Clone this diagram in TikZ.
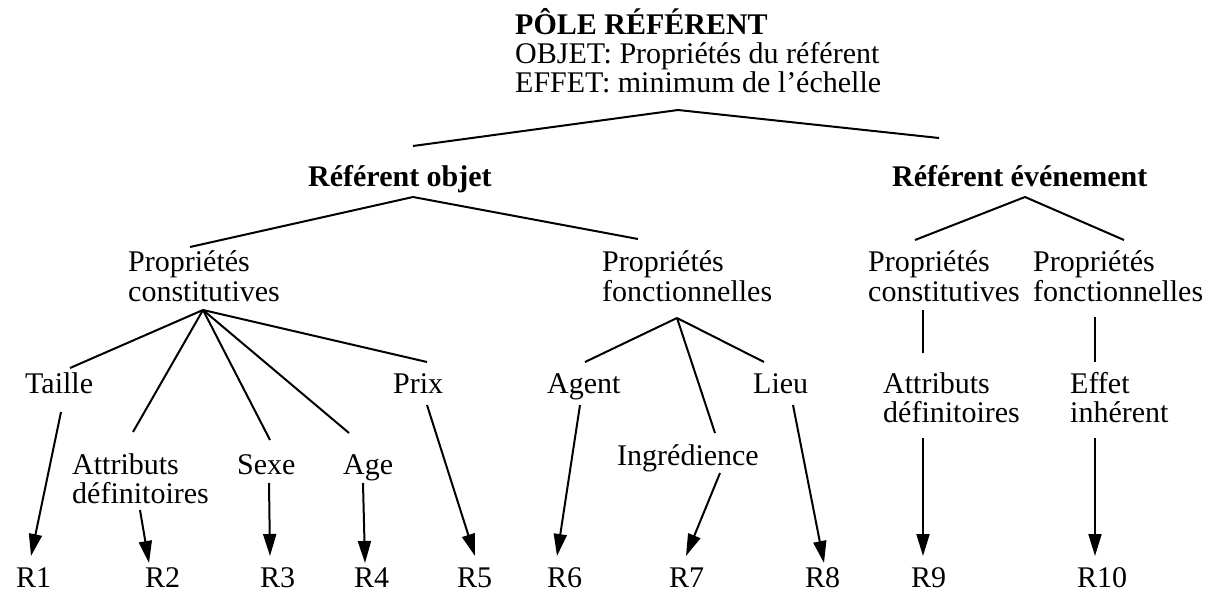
\documentclass[tikz,border=0pt]{standalone}
\usepackage{fontspec}
\setmainfont{Liberation Serif}
\usepackage{tikz}
\usetikzlibrary{arrows.meta}

\tikzset{
  lbl/.style={anchor=base west, inner sep=0pt, align=left, font=\fontsize{30}{29}\selectfont},
  head/.style={lbl, font=\bfseries\fontsize{30}{29}\selectfont},
  link/.style={line width=2pt},
  arr/.style={line width=2pt, -{Triangle[length=22pt,width=13pt]}}
}

\begin{document}
\begin{tikzpicture}[x=1pt, y=-1pt]
  \useasboundingbox (0,0) rectangle (1221,596);

  % Top of the tree
  \node[lbl] (pole) at (515,93)
    {\textbf{PÔLE RÉFÉRENT}\\OBJET: Propriétés du référent\\EFFET: minimum de l’échelle};
  \node[head] (ro) at (308,187) {Référent objet};
  \node[head] (re) at (892,187) {Référent événement};

  % Properties
  \node[lbl] (pc1) at (128,301) {Propriétés\\constitutives};
  \node[lbl] (pf1) at (602,301) {Propriétés\\fonctionnelles};
  \node[lbl] (pc2) at (868,301) {Propriétés\\constitutives};
  \node[lbl] (pf2) at (1033,301) {Propriétés\\fonctionnelles};

  % Leaves
  \node[lbl] (taille) at (25,393) {Taille};
  \node[lbl] (prix) at (393,393) {Prix};
  \node[lbl] (agent) at (547,393) {Agent};
  \node[lbl] (lieu) at (753,393) {Lieu};
  \node[lbl] (ad2) at (883,422) {Attributs\\définitoires};
  \node[lbl] (ei) at (1070,422) {Effet\\inhérent};
  \node[lbl] (ad1) at (72,503) {Attributs\\définitoires};
  \node[lbl] (sexe) at (237,474) {Sexe};
  \node[lbl] (age) at (343,474) {Age};
  \node[lbl] (ingr) at (617,465) {Ingrédience};

  % Results
  \node[lbl] (r1) at (16,587) {R1};
  \node[lbl] (r2) at (145,587) {R2};
  \node[lbl] (r3) at (260,587) {R3};
  \node[lbl] (r4) at (354,587) {R4};
  \node[lbl] (r5) at (457,587) {R5};
  \node[lbl] (r6) at (547,587) {R6};
  \node[lbl] (r7) at (669,587) {R7};
  \node[lbl] (r8) at (805,587) {R8};
  \node[lbl] (r9) at (911,587) {R9};
  \node[lbl] (r10) at (1077,587) {R10};

  % Ports
  \coordinate (pole-b) at (678,110);
  \coordinate (ro-t) at (413,146);   \coordinate (ro-b) at (413,197);
  \coordinate (re-t) at (939,138);   \coordinate (re-b) at (1025,197);
  \coordinate (pc1-t) at (190,247);  \coordinate (pc1-b) at (203,310);
  \coordinate (pf1-t) at (638,239);  \coordinate (pf1-b) at (677,318);
  \coordinate (pc2-t) at (915,240);  \coordinate (pc2-b) at (923,310);
  \coordinate (pf2-t) at (1124,240); \coordinate (pf2-b) at (1095,317);
  \coordinate (taille-t) at (70,368); \coordinate (taille-b) at (61,412);
  \coordinate (ad1-t) at (133,432);  \coordinate (ad1-b) at (140,510);
  \coordinate (sexe-t) at (270,440); \coordinate (sexe-b) at (269,483);
  \coordinate (age-t) at (349,433);  \coordinate (age-b) at (363,483);
  \coordinate (prix-t) at (427,362); \coordinate (prix-b) at (427,405);
  \coordinate (agent-t) at (585,362); \coordinate (agent-b) at (580,405);
  \coordinate (ingr-t) at (715,433); \coordinate (ingr-b) at (720,473);
  \coordinate (lieu-t) at (764,362); \coordinate (lieu-b) at (793,405);
  \coordinate (ad2-t) at (923,353);  \coordinate (ad2-b) at (923,438);
  \coordinate (ei-t) at (1095,362);  \coordinate (ei-b) at (1095,438);
  \coordinate (r1-t) at (31,556);    \coordinate (r2-t) at (149,563);
  \coordinate (r3-t) at (270,556);   \coordinate (r4-t) at (365,563);
  \coordinate (r5-t) at (475,556);   \coordinate (r6-t) at (557,556);
  \coordinate (r7-t) at (686,556);   \coordinate (r8-t) at (824,563);
  \coordinate (r9-t) at (923,556);   \coordinate (r10-t) at (1095,556);

  % Branches
  \draw[link] (ro-t) -- (pole-b) -- (re-t);
  \draw[link] (pc1-t) -- (ro-b) -- (pf1-t);
  \draw[link] (pc2-t) -- (re-b) -- (pf2-t);
  \draw[link] (pc1-b) -- (taille-t);
  \draw[link] (pc1-b) -- (ad1-t);
  \draw[link] (pc1-b) -- (sexe-t);
  \draw[link] (pc1-b) -- (age-t);
  \draw[link] (pc1-b) -- (prix-t);
  \draw[link] (pf1-b) -- (agent-t);
  \draw[link] (pf1-b) -- (ingr-t);
  \draw[link] (pf1-b) -- (lieu-t);
  \draw[link] (pc2-b) -- (ad2-t);
  \draw[link] (pf2-b) -- (ei-t);

  % Arrows
  \draw[arr] (taille-b) -- (r1-t);
  \draw[arr] (ad1-b) -- (r2-t);
  \draw[arr] (sexe-b) -- (r3-t);
  \draw[arr] (age-b) -- (r4-t);
  \draw[arr] (prix-b) -- (r5-t);
  \draw[arr] (agent-b) -- (r6-t);
  \draw[arr] (ingr-b) -- (r7-t);
  \draw[arr] (lieu-b) -- (r8-t);
  \draw[arr] (ad2-b) -- (r9-t);
  \draw[arr] (ei-b) -- (r10-t);
\end{tikzpicture}
\end{document}
